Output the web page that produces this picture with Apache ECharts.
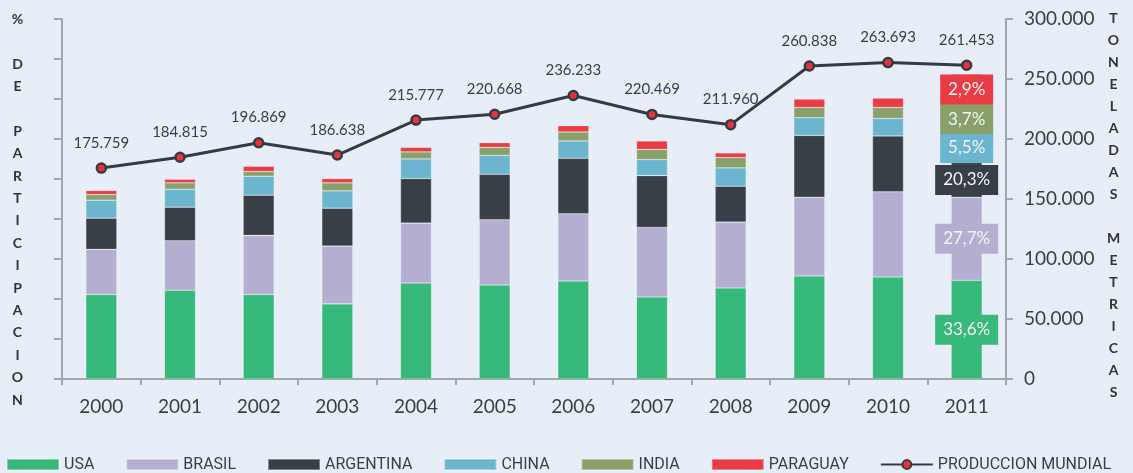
<!DOCTYPE html>
<html>
<head>
<meta charset="utf-8">
<script src="https://cdn.jsdelivr.net/npm/echarts@6/dist/echarts.min.js"></script>
<style>
  html, body { margin: 0; padding: 0; background: #e8eef7; }
  #chart { width: 1133px; height: 473px; }
</style>
</head>
<body>
<div id="chart"></div>
<script>
/* ---------- datos ---------- */
const years = ['2000', '2001', '2002', '2003', '2004', '2005', '2006', '2007', '2008', '2009', '2010', '2011']
const usa = [70400, 73960, 70390, 62570, 80030, 78360, 81690, 68390, 75870, 85840, 85010, 82270]
const brasil = [37640, 41300, 49280, 48200, 49860, 54350, 56010, 57920, 54850, 65650, 70970, 69220]
const argentina = [26010, 27920, 33490, 31580, 37150, 37890, 46200, 43210, 29920, 51520, 46540, 28840]
const china = [14960, 14960, 15790, 14460, 16370, 15790, 14460, 13300, 15290, 14710, 14630, 24350]
const india = [4740, 5320, 3910, 6650, 5820, 6650, 7480, 8560, 8560, 8560, 9140, 23850]
const paraguay = [3320, 2990, 4400, 3570, 3820, 3910, 5240, 6980, 3910, 6980, 7810, 25510]
const mundial = [175759, 184815, 196869, 186638, 215777, 220668, 236233, 220469, 211960, 260838, 263693, 261453]
const shares2011 = ['33,6%', '27,7%', '20,3%', '5,5%', '3,7%', '2,9%']
const rightTicks = [0, 300000, 50000]

/* ---------- colores ---------- */
const colors = ['#37b97b', '#b4afd0', '#393f47', '#6bb5cf', '#8aa06b', '#ea3c45']
const lineColor = '#343b44'
const axisColor = '#a2a7ad'
const font = 'Lato, "Open Sans", sans-serif'

const fmt = (v) => String(v).replace(/\B(?=(\d{3})+(?!\d))/g, '.')

/** barra apilada; en 2011 se etiqueta con el % */
function barSeries(name, values, idx, boxW) {
  const last = values.length - 1
  return {
    name,
    type: 'bar',
    stack: 'total',
    yAxisIndex: 1,
    barWidth: 31,
    itemStyle: { color: colors[idx], borderColor: 'rgba(255,255,255,0.35)', borderWidth: 0.6 },
    data: values.map((v, i) => i !== last ? v : {
      value: v,
      label: {
        show: true,
        position: 'inside',
        formatter: shares2011[idx],
        color: '#f4f4f4',
        fontFamily: font,
        fontSize: 17,
        backgroundColor: colors[idx],
        width: boxW,
        height: 30,
        lineHeight: 30,
        align: 'center',
        verticalAlign: 'middle',
        padding: 0
      }
    })
  }
}

const chart = echarts.init(document.getElementById('chart'))

chart.setOption({
  backgroundColor: '#e8eef7',
  animation: false,
  grid: { left: 62, right: 127, top: 19, bottom: 94 },
  legend: {
    left: 6,
    top: 456,
    width: 1127,
    padding: 0,
    itemWidth: 52,
    itemHeight: 11,
    itemGap: 31,
    textStyle: { fontFamily: '"Liberation Sans Narrow", Roboto, sans-serif', fontSize: 16, lineHeight: 17, color: '#3a3f46' },
    data: [
      { name: 'USA', icon: 'rect' },
      { name: 'BRASIL', icon: 'rect' },
      { name: 'ARGENTINA', icon: 'rect' },
      { name: 'CHINA', icon: 'rect' },
      { name: 'INDIA', icon: 'rect' },
      { name: 'PARAGUAY', icon: 'rect' },
      { name: 'PRODUCCION MUNDIAL' }
    ]
  },
  graphic: [
    {
      type: 'text', x: 17.5, y: 8,
      style: {
        text: '%\n\nD\nE\n\nP\nA\nR\nT\nI\nC\nI\nP\nA\nC\nI\nO\nN',
        font: 'bold 14px ' + font, fill: '#333', lineHeight: 22.4, align: 'center', verticalAlign: 'top'
      }
    },
    {
      type: 'text', x: 1113.5, y: 7.3,
      style: {
        text: 'T\nO\nN\nE\nL\nA\nD\nA\nS\n\nM\nE\nT\nR\nI\nC\nA\nS',
        font: 'bold 14px ' + font, fill: '#333', lineHeight: 22, align: 'center', verticalAlign: 'top'
      }
    }
  ],
  xAxis: {
    type: 'category',
    data: years,
    axisLine: { lineStyle: { color: axisColor, width: 2 } },
    axisTick: { show: true, length: 6, lineStyle: { color: axisColor, width: 2 } },
    axisLabel: { fontFamily: font, fontSize: 19, color: '#3a3f46', margin: 18 }
  },
  yAxis: [
    {
      type: 'value',
      position: 'left',
      min: 0, max: 90, interval: 10,
      axisLine: { show: true, lineStyle: { color: axisColor, width: 2 } },
      axisTick: { show: true, length: 8, lineStyle: { color: axisColor, width: 2 } },
      axisLabel: { show: false },
      splitLine: { show: false }
    },
    {
      type: 'value',
      position: 'right',
      min: rightTicks[0], max: rightTicks[1], interval: rightTicks[2],
      axisLine: { show: true, lineStyle: { color: axisColor, width: 2 } },
      axisTick: { show: true, length: 7, lineStyle: { color: axisColor, width: 2 } },
      axisLabel: { fontFamily: font, fontSize: 19, color: '#3a3f46', margin: 18, formatter: fmt },
      splitLine: { show: false }
    }
  ],
  series: [
    barSeries('USA', usa, 0, 63),
    barSeries('BRASIL', brasil, 1, 63),
    barSeries('ARGENTINA', argentina, 2, 63),
    barSeries('CHINA', china, 3, 53),
    barSeries('INDIA', india, 4, 53),
    barSeries('PARAGUAY', paraguay, 5, 53),
    {
      name: 'PRODUCCION MUNDIAL',
      type: 'line',
      yAxisIndex: 1,
      data: mundial,
      symbol: 'circle',
      symbolSize: 9,
      lineStyle: { color: lineColor, width: 3 },
      itemStyle: { color: '#e8333d', borderColor: lineColor, borderWidth: 2.5 },
      label: {
        show: true,
        position: 'top',
        distance: 12,
        formatter: (p) => fmt(p.value),
        fontFamily: font,
        fontSize: 15,
        color: '#3a3f46'
      },
      z: 5
    }
  ]
})
</script>
</body>
</html>
